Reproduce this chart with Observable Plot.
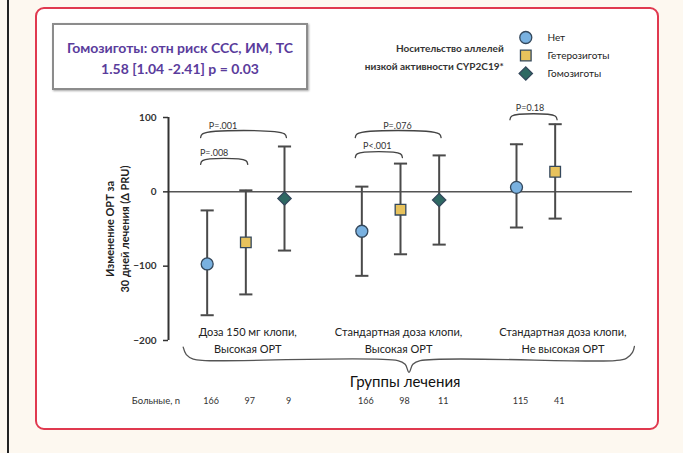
<!DOCTYPE html>
<html><head><meta charset="utf-8">
<script src="https://cdn.jsdelivr.net/npm/d3@7"></script>
<script src="https://cdn.jsdelivr.net/npm/@observablehq/plot@0.6"></script>
<style>
html,body{margin:0;padding:0;background:#fdf8f0;width:683px;height:453px;overflow:hidden;font-family:Lato,"Open Sans",sans-serif;}
#leftline{position:absolute;left:7px;top:0;width:1.5px;height:453px;background:#222;}
#frame{position:absolute;left:35px;top:7px;width:620px;height:419px;border:2px solid #e0394f;border-radius:9px;background:#fff;}
#box{position:absolute;left:52px;top:23px;width:252px;height:61px;border:2px solid #8c8c8c;box-shadow:1px 1px 2px rgba(0,0,0,.35);background:#fff;color:#5a3c9c;font-weight:bold;font-size:14px;text-align:center;line-height:21px;padding-top:2px;}
#chart{position:absolute;left:0;top:0;}
#chart svg{background:transparent;overflow:visible;}
</style></head>
<body>
<div id="leftline"></div>
<div id="frame"></div>
<div id="box"><div style="padding-top:10px">Гомозиготы: отн риск ССС, ИМ, ТС</div><div>1.58 [1.04 -2.41] p = 0.03</div></div>
<div id="chart"></div>
<script>
// ---- data ----
const groups = ["Доза 150 мг клопи,\nВысокая ОРТ", "Стандартная доза клопи,\nВысокая ОРТ", "Стандартная доза клопи,\nНе высокая ОРТ"];
const genotypes = ["Нет", "Гетерозиготы", "Гомозиготы"];
const groupIdx = [0, 0, 0, 1, 1, 1, 2, 2];
const genoIdx  = [0, 1, 2, 0, 1, 2, 0, 1];
const means    = [-97, -68, -9, -53, -24, -11, 6, 27];
const lower    = [-166, -138, -79, -113, -84, -71, -48, -36];
const upper    = [-25, 2, 61, 7, 38, 49, 64, 91];
const patients = [166, 97, 9, 166, 98, 11, 115, 41];
const yTicks   = [-200, -100, 0, 100];
// comparisons
const cmpGroup = [0, 0, 1, 1, 2];
const cmpFrom  = [0, 0, 0, 0, 0];
const cmpTo    = [2, 1, 2, 1, 1];
const cmpLabel = ["P=.001", "P=.008", "P=.076", "P<.001", "P=0.18"];
const legendTitle = "Носительство аллелей\nнизкой активности CYP2C19*";
const xTitle = "Группы лечения";
const yTitle = "Изменение ОРТ за\n30 дней лечения (Δ PRU)";
const nTitle = "Больные, n";

// ---- layout (annotation placement) ----
const bracketLevel = [78, 42, 78, 51, 102];
const bracketLabelX = [0.41, 0.18, 4.92, 4.4, 8.35];
const groupLabelX = [1.05, 4.95, 9.2];
const slot = (g, k) => g * 4 + k;

const rows = means.map((m, i) => ({
  group: groups[groupIdx[i]], genotype: genotypes[genoIdx[i]],
  pos: slot(groupIdx[i], genoIdx[i]), mean: m, lo: lower[i], hi: upper[i], n: patients[i]
}));
const brackets = [];
cmpLabel.forEach((lab, i) => {
  const x1 = slot(cmpGroup[i], cmpFrom[i]) - 0.17, x2 = slot(cmpGroup[i], cmpTo[i]) + 0.05, y = bracketLevel[i];
  brackets.push({id: i, x: x1, y: y - 5}, {id: i, x: x1 + 0.05, y: y}, {id: i, x: x2 - 0.05, y: y}, {id: i, x: x2, y: y - 5});
});
const bracketLabels = cmpLabel.map((lab, i) => ({text: lab, x: bracketLabelX[i], y: bracketLevel[i]}));
const brace = [
  [-0.62, -209], [-0.54, -219], [-0.36, -225], [-0.05, -227],
  [4.93, -227], [5.12, -232], [5.22, -243], [5.32, -232], [5.51, -227],
  [10.55, -227], [10.84, -224], [11.0, -216], [11.05, -208]
].map(([x, y]) => ({x, y}));
const legendRows = genotypes.map((g, i) => ({genotype: g, y: 207.6 - i * 24.2}));

const chart = Plot.plot({
  width: 683, height: 453,
  marginLeft: 168, marginRight: 51, marginTop: 117, marginBottom: 113,
  style: {fontFamily: "Lato, 'Open Sans', sans-serif", background: "transparent", overflow: "visible"},
  x: {domain: [-1, 11], axis: null},
  y: {domain: [-200, 100], axis: null},
  color: {domain: genotypes, range: ["#79b1e0", "#e7c25c", "#2e6963"]},
  symbol: {domain: genotypes, range: ["circle", "square", "diamond2"]},
  marks: [
    Plot.ruleY([0], {stroke: "#555", strokeWidth: 1.5}),
    Plot.ruleX([-1], {y1: -200, y2: 100, stroke: "#333", strokeWidth: 2}),
    Plot.axisY({ticks: yTicks, tickSize: 5, tickPadding: 7, fontSize: 10, fontWeight: "bold", color: "#333", stroke: "#333", strokeWidth: 1.5, label: null}),
    Plot.text([yTitle], {frameAnchor: "left", textAnchor: "middle", lineAnchor: "middle", dx: -52, rotate: -90, fontSize: 11, fontWeight: "bold", fill: "#222", lineHeight: 1.35}),
    // error bars
    Plot.ruleX(rows, {x: "pos", y1: "lo", y2: "hi", stroke: "#4a4a4a", strokeWidth: 2}),
    Plot.link(rows, {x1: d => d.pos - 0.17, x2: d => d.pos + 0.17, y1: "lo", y2: "lo", stroke: "#4a4a4a", strokeWidth: 2}),
    Plot.link(rows, {x1: d => d.pos - 0.17, x2: d => d.pos + 0.17, y1: "hi", y2: "hi", stroke: "#4a4a4a", strokeWidth: 2}),
    Plot.dot(rows, {x: "pos", y: "mean", symbol: "genotype", fill: "genotype", stroke: "#34485c", strokeWidth: 1.3, r: 6}),
    // significance brackets
    Plot.line(brackets, {x: "x", y: "y", z: "id", stroke: "#444", strokeWidth: 1.3, curve: "catmull-rom"}),
    Plot.text(bracketLabels, {x: "x", y: "y", text: "text", dy: -8, fontSize: 9, fill: "#333"}),
    // group labels & brace
    Plot.text(groups, {x: (d, i) => groupLabelX[i], y: -198, text: d => d, fontSize: 11, fill: "#222", lineHeight: 1.55}),
    Plot.line(brace, {x: "x", y: "y", stroke: "#555", strokeWidth: 1.3, curve: "catmull-rom"}),
    Plot.text([xTitle], {x: 5.12, y: -256.6, fontSize: 15, fill: "#111"}),
    // patient counts
    Plot.text(rows, {x: "pos", y: -281, text: "n", dx: 4, fontSize: 9, fill: "#333"}),
    Plot.text([nTitle], {x: -0.7, y: -281, textAnchor: "end", fontSize: 9.5, fill: "#333"}),
    // legend
    Plot.text([legendTitle], {x: 7.67, y: 184.3, textAnchor: "end", fontSize: 10, fontWeight: "bold", fill: "#333", lineHeight: 1.8}),
    Plot.dot(legendRows, {x: 8.24, y: "y", symbol: "genotype", fill: "genotype", stroke: "#34485c", strokeWidth: 1.3, r: 6}),
    Plot.text(legendRows, {x: 8.8, y: "y", text: "genotype", textAnchor: "start", fontSize: 10, fill: "#222"})
  ]
});
document.getElementById("chart").appendChild(chart);
</script>
</body></html>
